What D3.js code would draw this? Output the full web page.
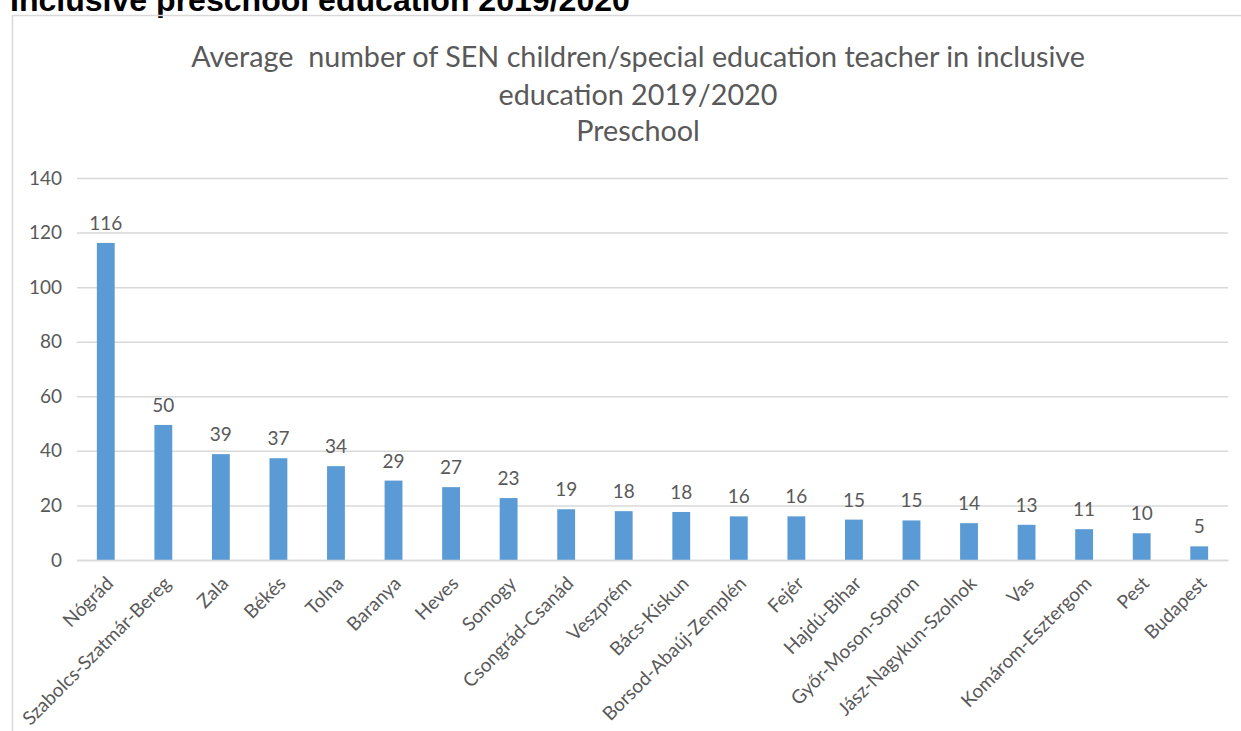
<!DOCTYPE html>
<html lang="en">
<head>
<meta charset="utf-8">
<title>SEN children per special education teacher - Preschool</title>
<script src="https://d3js.org/d3.v7.min.js"></script>
<style>
  body { margin: 0; background: #fff; overflow: hidden; }
  svg { display: block; }
</style>
</head>
<body>
<script>
// data
var counties = ["Nógrád", "Szabolcs-Szatmár-Bereg", "Zala", "Békés", "Tolna", "Baranya", "Heves",
  "Somogy", "Csongrád-Csanád", "Veszprém", "Bács-Kiskun", "Borsod-Abaúj-Zemplén", "Fejér",
  "Hajdú-Bihar", "Győr-Moson-Sopron", "Jász-Nagykun-Szolnok", "Vas", "Komárom-Esztergom",
  "Pest", "Budapest"];
var ratios = [116.2, 49.5, 38.8, 37.3, 34.4, 29.1, 26.7, 22.7, 18.6, 17.9, 17.6, 16.0, 16.0,
  14.8, 14.5, 13.5, 12.9, 11.3, 9.8, 5.0];
var yTicks = [0, 20, 40, 60, 80, 100, 120, 140];
var pageTitle = "Inclusive preschool education 2019/2020";
var chartTitle = ["Average  number of SEN children/special education teacher in inclusive",
  "education 2019/2020", "Preschool"];

var width = 1241, height = 731;
var margin = {left: 77, right: 13, top: 178, bottom: 171};
var font = "Lato, 'Open Sans', sans-serif";
var textColor = "#595959";
var labelSize = 19;

var svg = d3.select("body").append("svg")
  .attr("width", width)
  .attr("height", height);

// clipped page heading above the chart
var heading = svg.append("text")
  .attr("x", 10)
  .attr("y", 11)
  .attr("font-family", "'Liberation Sans', Arial, sans-serif")
  .attr("font-weight", "bold")
  .attr("font-size", 27)
  .attr("fill", "#000")
  .text(pageTitle);
// fit heading to the width seen in the reference
var hw = heading.node().getComputedTextLength();
heading.attr("font-size", 27 * 620 / hw);

// chart frame (only top and left visible)
svg.append("path")
  .attr("d", "M12.5," + (height + 5) + "V15.5H" + (width + 5))
  .attr("fill", "none")
  .attr("stroke", "#d9d9d9")
  .attr("stroke-width", 1.5);

var titleLines = svg.append("g")
  .selectAll("text")
  .data(chartTitle)
  .enter()
  .append("text")
  .attr("x", 638)
  .attr("y", function(d, i) { return [67, 105, 141][i]; })
  .attr("text-anchor", "middle")
  .attr("font-family", font)
  .attr("font-size", 24)
  .attr("fill", textColor)
  .style("white-space", "pre")
  .text(function(d) { return d; });
var tw = titleLines.node().getComputedTextLength();
titleLines.attr("font-size", 24 * 894 / tw);

var x = d3.scaleBand()
  .domain(counties)
  .range([margin.left, width - margin.right])
  .paddingInner(0.69)
  .paddingOuter(0.345);

var y = d3.scaleLinear()
  .domain([0, 140])
  .range([height - margin.bottom, margin.top]);

// gridlines and y labels
var yAxis = svg.append("g")
  .attr("transform", "translate(" + margin.left + ",0)")
  .call(d3.axisLeft(y).tickValues(yTicks)
    .tickSize(-(width - margin.left - margin.right))
    .tickPadding(15));
yAxis.select(".domain").remove();
yAxis.selectAll(".tick line")
  .attr("stroke", "#d9d9d9")
  .attr("stroke-width", 1.5);
yAxis.selectAll(".tick text")
  .attr("font-family", font)
  .attr("font-size", labelSize)
  .attr("fill", textColor);

svg.append("g")
  .selectAll("rect")
  .data(counties)
  .enter()
  .append("rect")
  .attr("x", function(d) { return x(d); })
  .attr("width", x.bandwidth())
  .attr("y", function(d, i) { return y(ratios[i]); })
  .attr("height", function(d, i) { return y(0) - y(ratios[i]); })
  .attr("fill", "#5b9bd5");

// value labels
svg.append("g")
  .selectAll("text")
  .data(counties)
  .enter()
  .append("text")
  .attr("x", function(d) { return x(d) + x.bandwidth() / 2; })
  .attr("y", function(d, i) { return y(ratios[i]) - 13; })
  .attr("text-anchor", "middle")
  .attr("font-family", font)
  .attr("font-size", labelSize)
  .attr("fill", textColor)
  .text(function(d, i) { return d3.format(".0f")(ratios[i]); });

// rotated category labels
var xAxis = svg.append("g")
  .attr("transform", "translate(0," + y(0) + ")")
  .call(d3.axisBottom(x).tickSize(0).tickPadding(0));
xAxis.select(".domain")
  .attr("stroke", "#d9d9d9")
  .attr("stroke-width", 1.5);
xAxis.selectAll(".tick text")
  .attr("font-family", font)
  .attr("font-size", labelSize)
  .attr("fill", textColor)
  .attr("text-anchor", "end")
  .attr("dy", "0.35em")
  .attr("transform", "translate(4,20) rotate(-45)");
</script>
</body>
</html>
